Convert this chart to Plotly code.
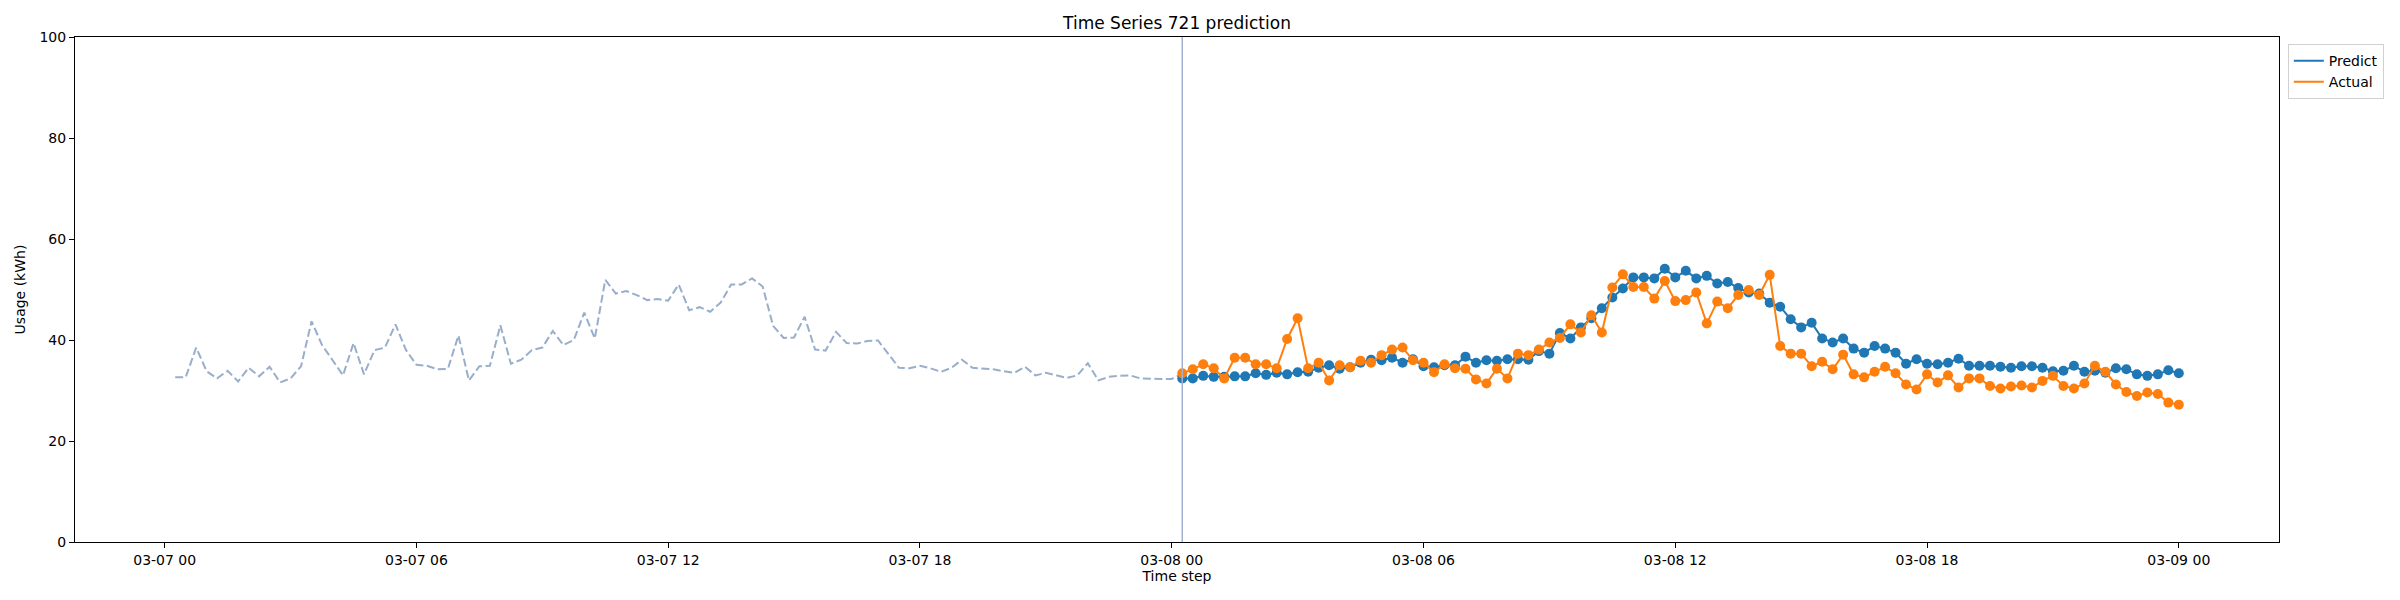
import pandas as pd
import plotly.graph_objects as go

# Usage readings, 15-minute steps
history_start = "2024-03-07 00:15"
predict_start = "2024-03-08 00:15"

history_kwh = [
    32.6, 32.6, 38.5, 33.8, 32.4, 33.9, 31.8, 34.5, 32.8, 34.7, 31.6, 32.4,
    34.8, 43.7, 39.0, 36.0, 33.0, 39.4, 33.2, 38.0, 38.5, 43.1, 38.0, 35.1,
    34.9, 34.2, 34.3, 40.9, 32.0, 34.8, 34.9, 42.9, 35.3, 36.1, 38.0, 38.5,
    41.8, 39.0, 40.0, 45.4, 40.3, 51.9, 49.2, 49.7, 48.9, 47.9, 48.1, 47.8,
    51.0, 45.9, 46.5, 45.6, 47.4, 51.0, 51.0, 52.2, 50.6, 42.8, 40.4, 40.5,
    44.6, 38.1, 37.9, 41.6, 39.4, 39.3, 39.8, 39.9, 37.1, 34.5, 34.4, 34.9,
    34.4, 33.7, 34.5, 36.1, 34.5, 34.4, 34.2, 33.8, 33.5, 34.7, 33.0, 33.5,
    33.0, 32.5, 33.0, 35.4, 32.0, 32.7, 32.9, 33.0, 32.4, 32.3, 32.3, 32.3,
]

predict_kwh = [
    32.4, 32.4, 32.9, 32.7, 32.7, 32.8, 32.8, 33.4, 33.1, 33.5, 33.2, 33.6,
    33.7, 34.5, 35.0, 34.3, 34.6, 35.5, 36.1, 36.0, 36.5, 35.5, 36.2, 34.8,
    34.6, 35.0, 35.0, 36.7, 35.5, 36.0, 35.9, 36.2, 36.2, 36.1, 37.8, 37.3,
    41.4, 40.3, 42.5, 44.3, 46.3, 48.4, 50.2, 52.4, 52.4, 52.2, 54.1, 52.4,
    53.7, 52.2, 52.7, 51.2, 51.5, 50.3, 49.4, 49.2, 47.4, 46.6, 44.1, 42.5,
    43.4, 40.3, 39.5, 40.3, 38.3, 37.5, 38.8, 38.3, 37.5, 35.3, 36.2, 35.3,
    35.2, 35.5, 36.3, 34.9, 34.9, 34.9, 34.7, 34.5, 34.8, 34.8, 34.5, 33.8,
    33.9, 34.9, 33.7, 33.9, 33.5, 34.4, 34.2, 33.2, 32.9, 33.2, 34.0, 33.4,
]

actual_kwh = [
    33.4, 34.2, 35.2, 34.4, 32.4, 36.5, 36.5, 35.2, 35.2, 34.4, 40.2, 44.3,
    34.4, 35.5, 32.0, 35.0, 34.6, 35.9, 35.5, 37.0, 38.1, 38.5, 36.0, 35.5,
    33.6, 35.2, 34.4, 34.3, 32.2, 31.4, 34.3, 32.4, 37.3, 37.0, 38.1, 39.5,
    40.4, 43.1, 41.5, 44.9, 41.5, 50.4, 53.0, 50.5, 50.5, 48.2, 51.7, 47.7,
    47.9, 49.4, 43.3, 47.6, 46.3, 48.9, 49.9, 48.9, 52.9, 38.8, 37.3, 37.3,
    34.8, 35.7, 34.2, 37.1, 33.2, 32.6, 33.7, 34.7, 33.4, 31.2, 30.2, 33.2,
    31.6, 33.0, 30.6, 32.4, 32.4, 30.9, 30.4, 30.8, 31.0, 30.6, 31.9, 32.9,
    30.9, 30.4, 31.4, 34.9, 33.7, 31.2, 29.7, 28.9, 29.6, 29.3, 27.6, 27.2,
]

history_times = pd.date_range(history_start, periods=len(history_kwh), freq="15min")
predict_times = pd.date_range(predict_start, periods=len(predict_kwh), freq="15min")

# history line runs on into the first actual reading
hist_x = list(history_times) + [predict_times[0]]
hist_y = history_kwh + [actual_kwh[0]]

blue = "#1f77b4"
orange = "#ff7f0e"

fig = go.Figure()
fig.add_trace(go.Scatter(x=hist_x, y=hist_y, mode="lines", showlegend=False,
                         line=dict(color="#98aecb", width=2, dash="8px,3.5px")))
fig.add_trace(go.Scatter(x=predict_times, y=predict_kwh, mode="lines", name="Predict",
                         line=dict(color=blue, width=2)))
fig.add_trace(go.Scatter(x=predict_times, y=predict_kwh, mode="markers", showlegend=False,
                         marker=dict(color=blue, size=10)))
fig.add_trace(go.Scatter(x=predict_times, y=actual_kwh, mode="lines", name="Actual",
                         line=dict(color=orange, width=2)))
fig.add_trace(go.Scatter(x=predict_times, y=actual_kwh, mode="markers", showlegend=False,
                         marker=dict(color=orange, size=10)))

fig.add_vline(x=predict_times[0], line=dict(color="#a5b1d3", width=1.5))

# matplotlib style 5% margins on x
span = predict_times[-1] - history_times[0]
x_range = [history_times[0] - span * 0.05, predict_times[-1] + span * 0.05]

axis_style = dict(showline=True, linecolor="black", linewidth=1, mirror=True,
                  ticks="outside", ticklen=5, tickwidth=1, tickcolor="black",
                  showgrid=False, zeroline=False, tickfont=dict(size=14))

# page body has an 8px margin, so the figure is 8px smaller each way
fig.update_layout(
    width=2392, height=592,
    margin=dict(l=63, r=121, t=29, b=58),
    paper_bgcolor="white", plot_bgcolor="white",
    font=dict(family="DejaVu Sans", size=14, color="black"),
    title=dict(text="Time Series 721 prediction", x=0.5, xref="paper",
               y=1 - 15 / 592, yref="container", yanchor="middle",
               font=dict(size=17)),
    xaxis=dict(range=x_range, tickformat="%m-%d %H", dtick=6 * 3600 * 1000,
               tick0="2024-03-07 00:00",
               title=dict(text="Time step", standoff=4, font=dict(size=14)),
               **axis_style),
    yaxis=dict(range=[0, 100], dtick=20,
               title=dict(text="Usage (kWh)", standoff=10, font=dict(size=14)),
               **axis_style),
    legend=dict(x=1.004, y=0.986, xanchor="left", yanchor="top",
                bordercolor="#d0d0d0", borderwidth=1, bgcolor="white",
                font=dict(size=14), itemwidth=30),
)

fig.write_html("out.html")
